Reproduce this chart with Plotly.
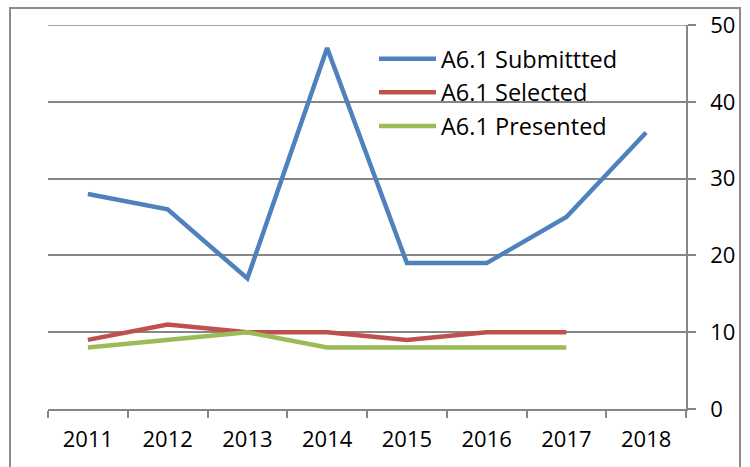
import plotly.graph_objects as go

years = ["2011", "2012", "2013", "2014", "2015", "2016", "2017", "2018"]
submitted = [28, 26, 17, 47, 19, 19, 25, 36]
selected = [9, 11, 10, 10, 9, 10, 10]
presented = [8, 9, 10, 8, 8, 8, 8]

names = ["A6.1 Submittted", "A6.1 Selected", "A6.1 Presented"]
colors = ["#4F81BD", "#C0504D", "#9BBB59"]
y_max = 50

fig = go.Figure()
for name, vals, col in zip(names, [submitted, selected, presented], colors):
    fig.add_trace(go.Scatter(x=years[:len(vals)], y=vals, name=name, mode="lines",
                             line=dict(color=col, width=4.5)))

W, H = 750, 467
ml, mr, mt, mb = 48, 64, 25, 58
pw, ph = W - ml - mr, H - mt - mb

def px(x):
    return (x - ml) / pw

def py(y):
    return (H - mb - y) / ph

fig.update_layout(
    width=W, height=H,
    margin=dict(l=ml, r=mr, t=mt, b=mb, autoexpand=False),
    paper_bgcolor="white", plot_bgcolor="white",
    font=dict(family="Open Sans, Liberation Sans, sans-serif", size=22, color="black"),
    showlegend=True,
    legend=dict(x=px(374), y=py(37), xanchor="left", yanchor="top",
                bgcolor="rgba(0,0,0,0)", font=dict(size=23.5), itemwidth=57,
                tracegroupgap=0),
    xaxis=dict(type="category", showgrid=False, showline=True, linecolor="#868686",
               linewidth=1.5, ticks="outside", tickson="boundaries", ticklen=7,
               tickcolor="#868686", tickwidth=1.5, range=[-0.5, 7.5],
               tickfont=dict(size=22), ticklabelstandoff=10, automargin=False),
    yaxis=dict(side="right", range=[0, y_max], dtick=10, showgrid=True,
               gridcolor="#868686", gridwidth=1.5, showline=True, linecolor="#868686",
               linewidth=1.5, ticks="outside", ticklen=8, tickcolor="#868686",
               tickwidth=1.5, zeroline=False, tickfont=dict(size=22),
               ticklabelstandoff=10, automargin=False),
    shapes=[
        dict(type="rect", xref="paper", yref="paper",
             x0=px(10), x1=px(740), y0=py(475), y1=py(8),
             line=dict(color="#8c8c8c", width=2), fillcolor="rgba(0,0,0,0)",
             layer="below"),
        dict(type="line", xref="paper", yref="y", x0=0, x1=1, y0=y_max, y1=y_max,
             line=dict(color="#868686", width=1.5), layer="below"),
    ],
)

fig.write_html("out.html", config={"displayModeBar": False},
               post_script="document.body.style.margin='0';document.body.style.padding='0';")
